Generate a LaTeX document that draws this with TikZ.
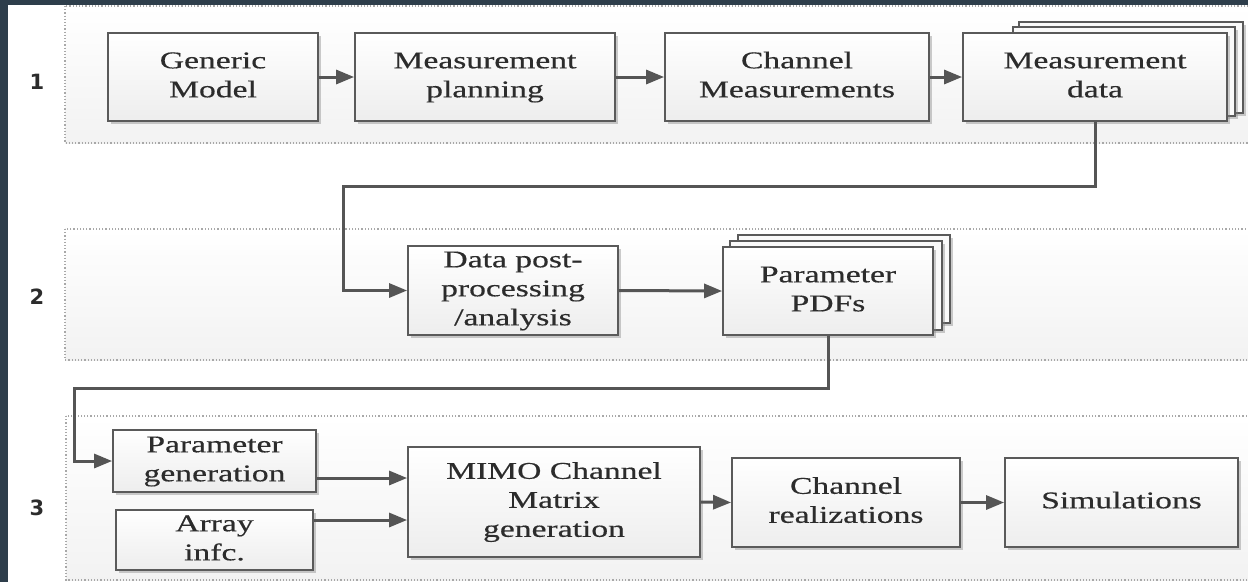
\documentclass[tikz,border=0pt]{standalone}
\usepackage{fontspec}
\usepackage{graphicx}
\setmainfont{Liberation Serif}
\newfontfamily\capfont{Liberation Serif}[FakeBold=0.35]
\newfontfamily\numfont{DejaVu Sans}
\usetikzlibrary{arrows.meta,shadows,calc}

\definecolor{framecol}{HTML}{2E3E4B}
\definecolor{edgecol}{HTML}{5A5A5A}
\definecolor{inkcol}{HTML}{2C2C2C}
\definecolor{wirecol}{HTML}{555555}
\definecolor{bandline}{HTML}{A8A8A8}

% box captions are set wide, centred line by line
\newcommand\boxtext[1]{\scalebox{1.4}[1]{\begin{tabular}{@{}c@{}}#1\end{tabular}}}

\tikzset{
  blk/.style={draw=edgecol, line width=1.8pt, top color=white, bottom color=gray!14,
    inner sep=0pt, text=inkcol, font=\capfont\fontsize{24}{29}\selectfont,
    drop shadow={shadow xshift=3pt, shadow yshift=-3pt, opacity=0.4, fill=gray}},
  copybox/.style={draw=edgecol, line width=1.8pt, fill=gray!4,
    drop shadow={shadow xshift=3pt, shadow yshift=-3pt, opacity=0.4, fill=gray}},
  band/.style={draw=bandline, dotted, line width=1.2pt, top color=white, bottom color=gray!10},
  wire/.style={draw=wirecol, line width=3pt, line join=miter,
    -{Triangle[length=18pt,width=14pt]}},
  tag/.style={font=\numfont\bfseries\fontsize{21}{24}\selectfont, text=inkcol},
}

\begin{document}
\begin{tikzpicture}[x=1pt,y=-1pt]
\useasboundingbox (0,0) rectangle (1248,582);
\clip (0,0) rectangle (1248,582);
\fill[white] (0,0) rectangle (1248,582);
\fill[framecol] (0,0) rectangle (1248,5);
\fill[framecol] (0,0) rectangle (8,582);

% stage bands
\path[band] (65,6) rectangle (1262,143);
\path[band] (65,229) rectangle (1262,360);
\path[band] (66,416) rectangle (1262,580);

% stage numbers
\node[tag] (t1) at (37,82) {1};
\node[tag] (t2) at (37,297) {2};
\node[tag] (t3) at (37,508) {3};

% stage 1
\node[blk, minimum width=210pt, minimum height=88pt] (gm) at (213,77) {\boxtext{Generic\\Model}};
\node[blk, minimum width=260pt, minimum height=88pt] (mp) at (485,77) {\boxtext{Measurement\\planning}};
\node[blk, minimum width=264pt, minimum height=88pt] (cm) at (797,77) {\boxtext{Channel\\Measurements}};
\draw[copybox] (1019,22) rectangle (1243,113);
\draw[copybox] (1013,27) rectangle (1235,116);
\node[blk, minimum width=264pt, minimum height=88pt] (md) at (1095,77) {\boxtext{Measurement\\data}};

% stage 2
\node[blk, minimum width=210pt, minimum height=89pt] (dp) at (513,290.5) {\boxtext{Data post-\\processing\\/analysis}};
\draw[copybox] (738,235) rectangle (950,323);
\draw[copybox] (730,241) rectangle (942,330);
\node[blk, minimum width=210pt, minimum height=88pt] (pdf) at (828,291) {\boxtext{Parameter\\PDFs}};

% stage 3
\node[blk, minimum width=203pt, minimum height=62pt] (pg) at (214.5,461) {\boxtext{Parameter\\generation}};
\node[blk, minimum width=197pt, minimum height=60pt] (ai) at (214.5,540) {\boxtext{Array\\infc.}};
\node[blk, minimum width=292pt, minimum height=110pt] (mimo) at (554,502) {\boxtext{MIMO Channel\\Matrix\\generation}};
\node[blk, minimum width=228pt, minimum height=89pt] (cr) at (846,502.5) {\boxtext{Channel\\realizations}};
\node[blk, minimum width=233pt, minimum height=89pt] (sim) at (1121.5,502.5) {\boxtext{Simulations}};

% connectors
\draw[wire] (gm.east) -- (mp.west);
\draw[wire] (mp.east) -- (cm.west);
\draw[wire] (cm.east) -- (md.west);

\coordinate (k1) at (343,186);
\draw[wire] (md.south) |- (k1) |- (dp.west);
\draw[wire] (dp.east) -- (pdf.west);

\coordinate (k2) at (74,388);
\draw[wire] (pdf.south) |- (k2) |- (pg.west);

\coordinate (pgout) at ([yshift=-17pt]pg.east);
\coordinate (aiout) at ([yshift=20pt]ai.east);
\draw[wire] (pgout) -- (pgout -| mimo.west);
\draw[wire] (aiout) -- (aiout -| mimo.west);
\draw[wire] (mimo.east) -- (cr.west);
\draw[wire] (cr.east) -- (sim.west);
\end{tikzpicture}
\end{document}
